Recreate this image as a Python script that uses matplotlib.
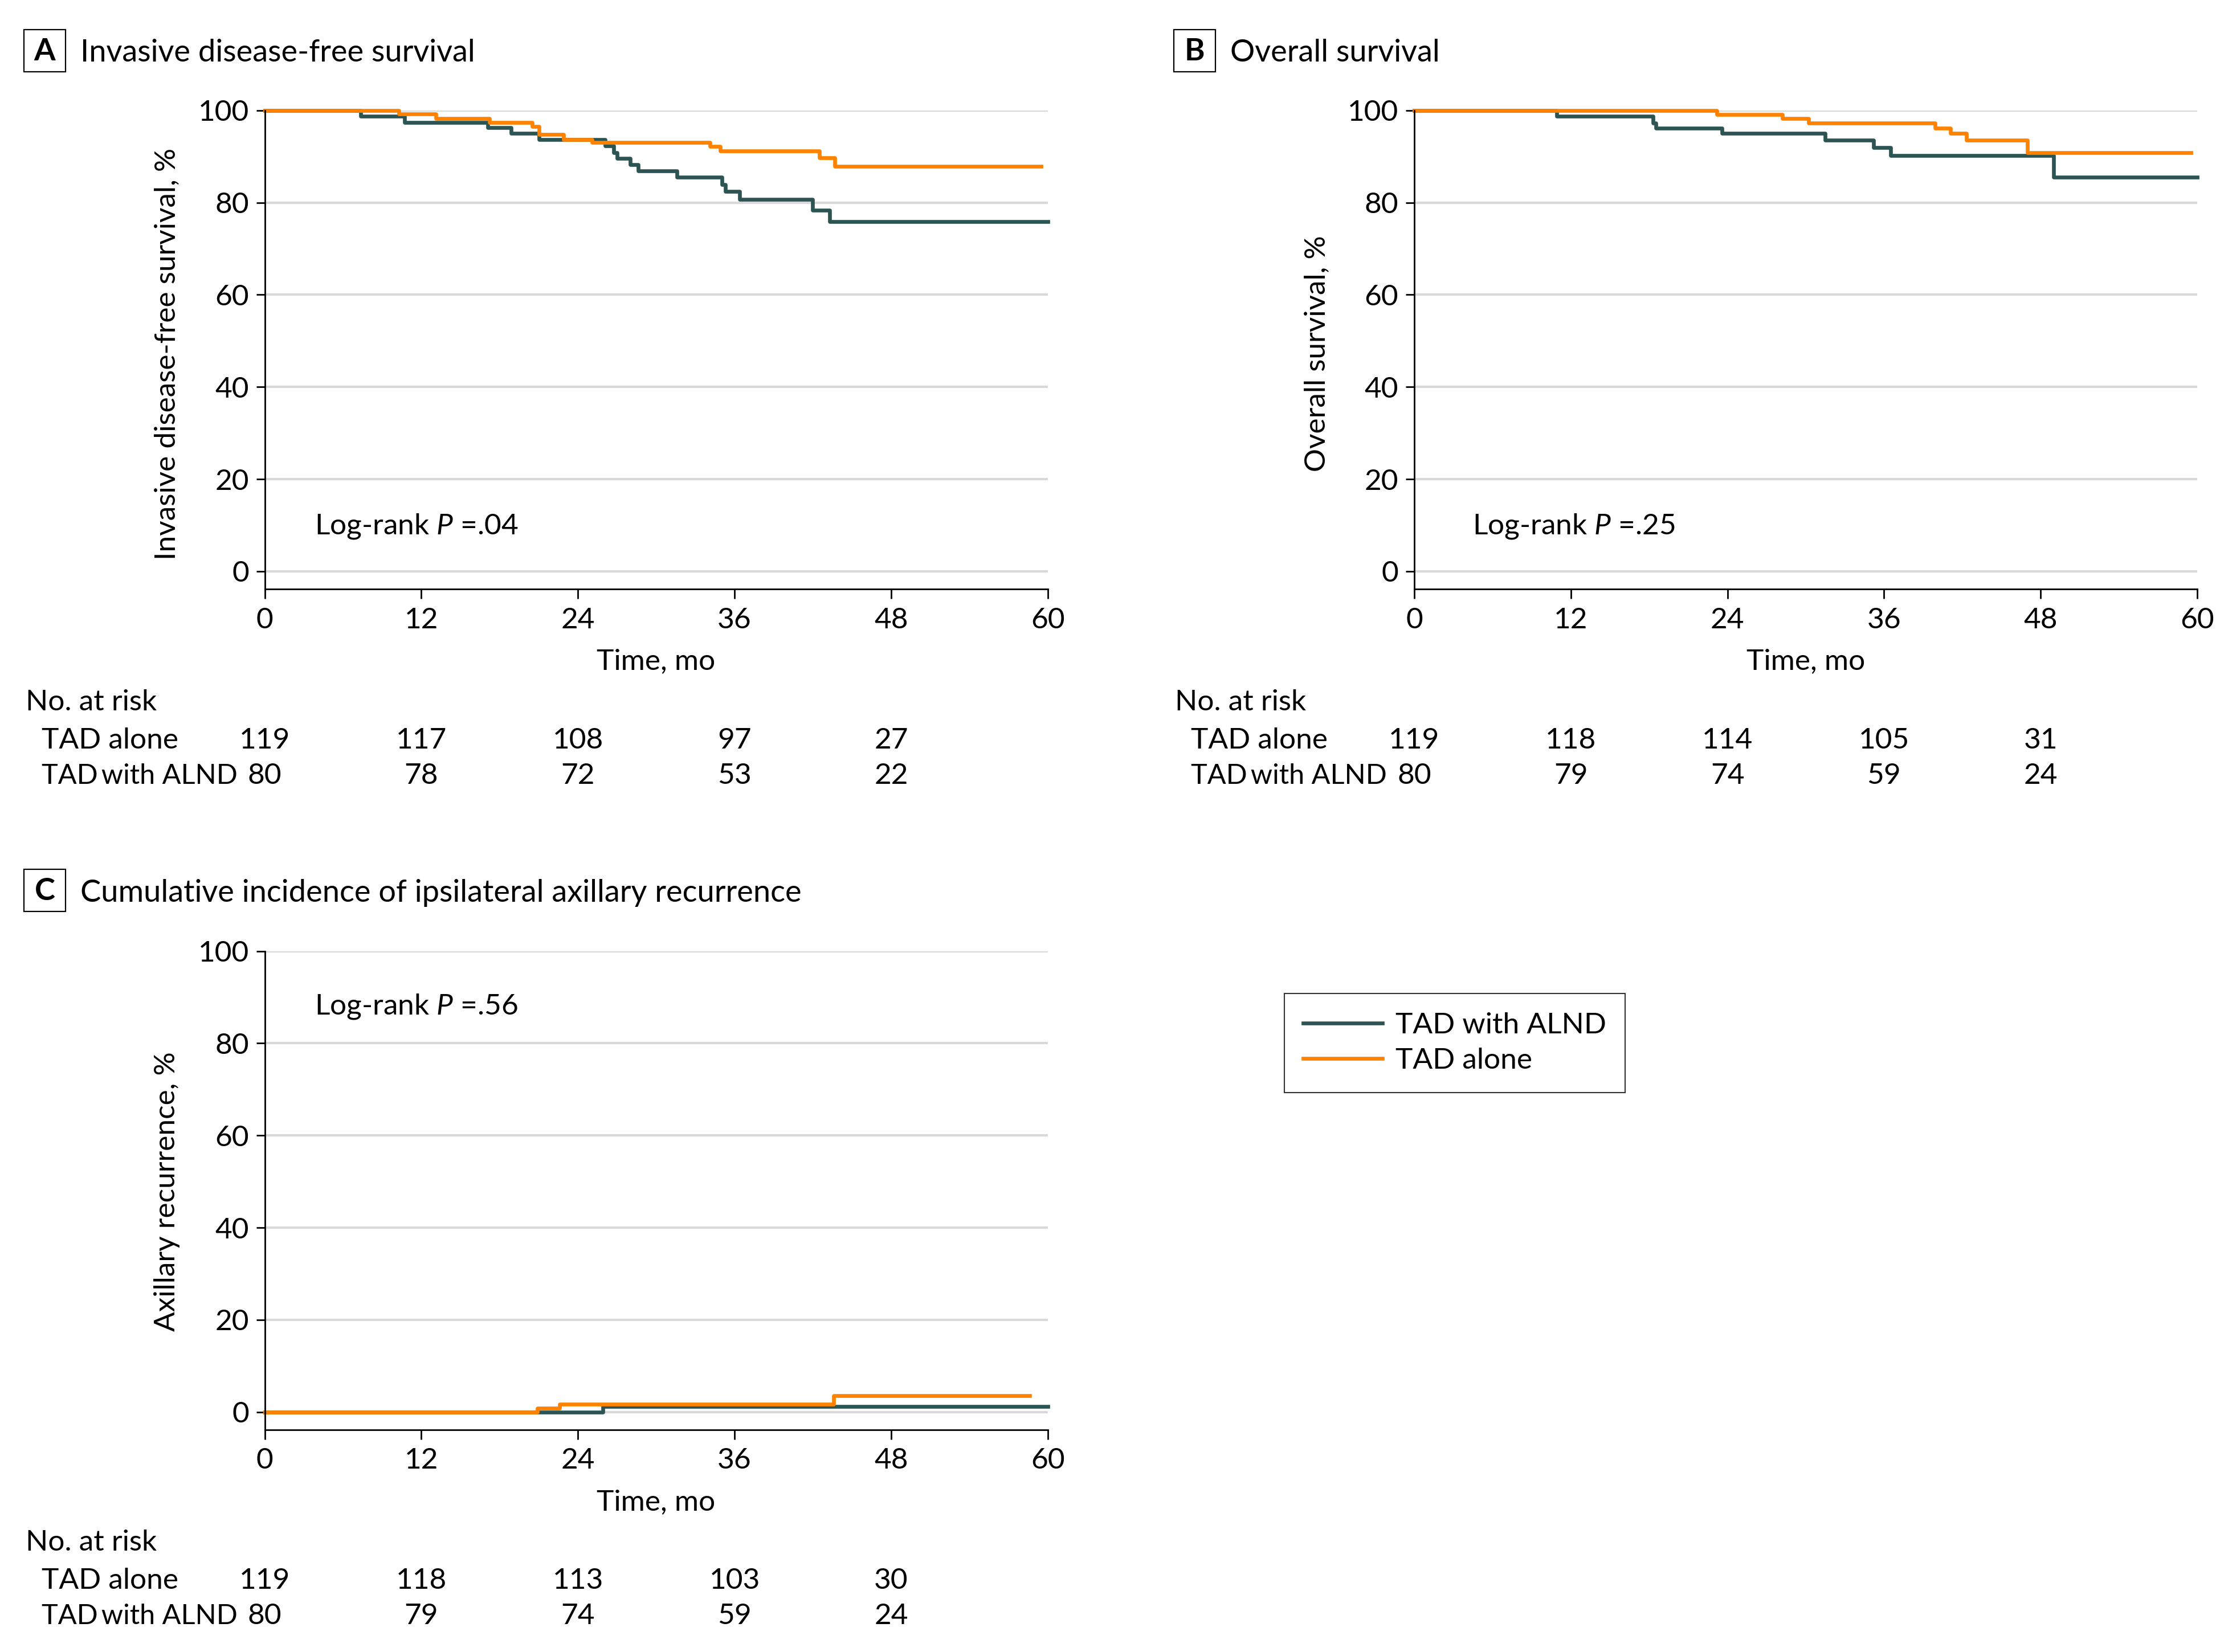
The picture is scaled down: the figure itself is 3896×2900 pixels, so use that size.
import matplotlib
matplotlib.use("Agg")
import matplotlib.pyplot as plt
import matplotlib.transforms as mtransforms
from matplotlib.patches import Rectangle

FONT = 'Lato'
plt.rcParams['font.family'] = [FONT, 'DejaVu Sans']
plt.rcParams['font.size'] = 37
plt.rcParams['mathtext.fontset'] = 'custom'
plt.rcParams['mathtext.rm'] = FONT
plt.rcParams['mathtext.it'] = FONT + ':italic'

GREEN = '#2b5453'
ORANGE = '#ff8200'

# Panel A: invasive disease-free survival (%)
a_alone_t = [0, 10.3, 13.1, 17.2, 20.5, 21.0, 22.9, 25.1, 34.1, 34.9, 42.5, 43.7, 59.5]
a_alone_s = [100, 99.2, 98.3, 97.4, 96.5, 94.8, 93.7, 93.1, 92.2, 91.2, 89.7, 87.9, 87.9]
a_alnd_t = [0, 7.35, 10.7, 17.1, 18.9, 21.0, 26.1, 26.75, 27.0, 28.0, 28.6, 31.6,
            35.05, 35.3, 36.4, 42.0, 43.3, 60]
a_alnd_s = [100, 98.8, 97.4, 96.3, 95.0, 93.7, 92.3, 90.8, 89.6, 88.2, 86.9, 85.5,
            83.9, 82.4, 80.7, 78.4, 75.9, 75.9]

# Panel B: overall survival (%)
b_alone_t = [0, 23.2, 28.2, 30.2, 39.9, 41.1, 42.3, 47.0, 59.5]
b_alone_s = [100, 99.1, 98.3, 97.2, 96.2, 95.0, 93.5, 90.8, 90.8]
b_alnd_t = [0, 10.9, 18.3, 18.5, 23.6, 31.5, 35.2, 36.5, 49.0, 60]
b_alnd_s = [100, 98.8, 97.3, 96.2, 95.0, 93.5, 91.9, 90.2, 85.5, 85.5]

# Panel C: cumulative incidence of axillary recurrence (%)
c_alone_t = [0, 20.9, 22.6, 43.6, 58.6]
c_alone_s = [0, 0.8, 1.7, 3.5, 3.5]
c_alnd_t = [0, 25.9, 60]
c_alnd_s = [0, 1.25, 1.25]

risk_months = [0, 12, 24, 36, 48]
a_risk_alone = [119, 117, 108, 97, 27]
a_risk_alnd = [80, 78, 72, 53, 22]
b_risk_alone = [119, 118, 114, 105, 31]
b_risk_alnd = [80, 79, 74, 59, 24]
c_risk_alone = [119, 118, 113, 103, 30]
c_risk_alnd = [80, 79, 74, 59, 24]

W, H = 3896, 2900
fig = plt.figure(figsize=(W / 100, H / 100), dpi=100)


def fx(px):
    return px / W


def fy(py):
    return 1 - py / H


def make_axes(left, right, top, bottom):
    return fig.add_axes([fx(left), fy(bottom), fx(right) - fx(left), (bottom - top) / H])


def style(ax):
    ax.set_xlim(0, 60)
    ax.set_ylim(-3.8, 100)
    ax.set_xticks([0, 12, 24, 36, 48, 60])
    ax.set_yticks([0, 20, 40, 60, 80, 100])
    for s in ['top', 'right']:
        ax.spines[s].set_visible(False)
    for s in ['left', 'bottom']:
        ax.spines[s].set_linewidth(2)
    ax.tick_params(axis='x', length=12, width=2, pad=11)
    ax.tick_params(axis='y', length=11, width=2, pad=9)
    ax.grid(axis='y', color='#d9d9d9', lw=3)
    ax.set_axisbelow(True)


def panel(ax, alnd_t, alnd_s, alone_t, alone_s):
    style(ax)
    g, = ax.step(alnd_t, alnd_s, where='post', color=GREEN, lw=4.8, clip_on=False,
                 label='TAD with ALND')
    o, = ax.step(alone_t, alone_s, where='post', color=ORANGE, lw=4.8, clip_on=False,
                 label='TAD alone')
    return g, o


def title(box_left, y, letter, text):
    fig.add_artist(Rectangle((fx(box_left), fy(y + 37)), 73 / W, 74 / H,
                             transform=fig.transFigure, fill=False, ec='black', lw=1.6))
    fig.text(fx(box_left + 36.5), fy(y + 2), letter, ha='center', va='center',
             fontweight='bold', fontsize=39)
    fig.text(fx(box_left + 99), fy(y + 4), text, ha='left', va='center', fontsize=39)


def risk_table(ax, label_x, y0, alone, alnd):
    tr = mtransforms.blended_transform_factory(ax.transData, fig.transFigure)
    fig.text(fx(label_x), fy(y0), 'No. at risk', ha='left', va='center')
    fig.text(fx(label_x + 28), fy(y0 + 67), 'TAD alone', ha='left', va='center')
    fig.text(fx(label_x + 28), fy(y0 + 129), 'TAD\u2009with ALND', ha='left', va='center',
             fontsize=35)
    for m, n1, n2 in zip(risk_months, alone, alnd):
        ax.text(m, fy(y0 + 67), str(n1), transform=tr, ha='center', va='center')
        ax.text(m, fy(y0 + 129), str(n2), transform=tr, ha='center', va='center')


# Panel A
axA = make_axes(464.6, 1838.7, 193.8, 1033.6)
panel(axA, a_alnd_t, a_alnd_s, a_alone_t, a_alone_s)
axA.text(3.8, 9.8, 'Log-rank $P$ =.04', ha='left', va='center')
fig.text(fx(293), fy(621), 'Invasive disease-free survival, %', rotation=90,
         ha='center', va='center')
fig.text(fx(1151.6), fy(1161), 'Time, mo', ha='center', va='center')
title(42, 89, 'A', 'Invasive disease-free survival')
risk_table(axA, 44.7, 1232.5, a_risk_alone, a_risk_alnd)

# Panel B
axB = make_axes(2482, 3856, 193.8, 1033.6)
panel(axB, b_alnd_t, b_alnd_s, b_alone_t, b_alone_s)
axB.text(4.45, 9.8, 'Log-rank $P$ =.25', ha='left', va='center')
fig.text(fx(2311), fy(621), 'Overall survival, %', rotation=90, ha='center', va='center')
fig.text(fx(3169), fy(1161), 'Time, mo', ha='center', va='center')
title(2060, 89, 'B', 'Overall survival')
risk_table(axB, 2062, 1232.5, b_risk_alone, b_risk_alnd)

# Panel C
axC = make_axes(464.6, 1838.7, 1669.6, 2509.5)
g, o = panel(axC, c_alnd_t, c_alnd_s, c_alone_t, c_alone_s)
axC.text(3.8, 88.0, 'Log-rank $P$ =.56', ha='left', va='center')
fig.text(fx(293), fy(2092), 'Axillary recurrence, %', rotation=90, ha='center', va='center')
fig.text(fx(1151.6), fy(2637), 'Time, mo', ha='center', va='center')
title(42, 1563, 'C', 'Cumulative incidence of ipsilateral axillary recurrence')
risk_table(axC, 44.7, 2708, c_risk_alone, c_risk_alnd)

leg = fig.legend(handles=[g, o], loc='upper left', bbox_to_anchor=(fx(2253.6), fy(1744)),
                 borderaxespad=0, frameon=True, fancybox=False, borderpad=0.65,
                 handlelength=2.7, handletextpad=0.45, labelspacing=0.3)
leg.get_frame().set_edgecolor('black')
leg.get_frame().set_linewidth(1.5)

fig.savefig('out.png', dpi=100)
